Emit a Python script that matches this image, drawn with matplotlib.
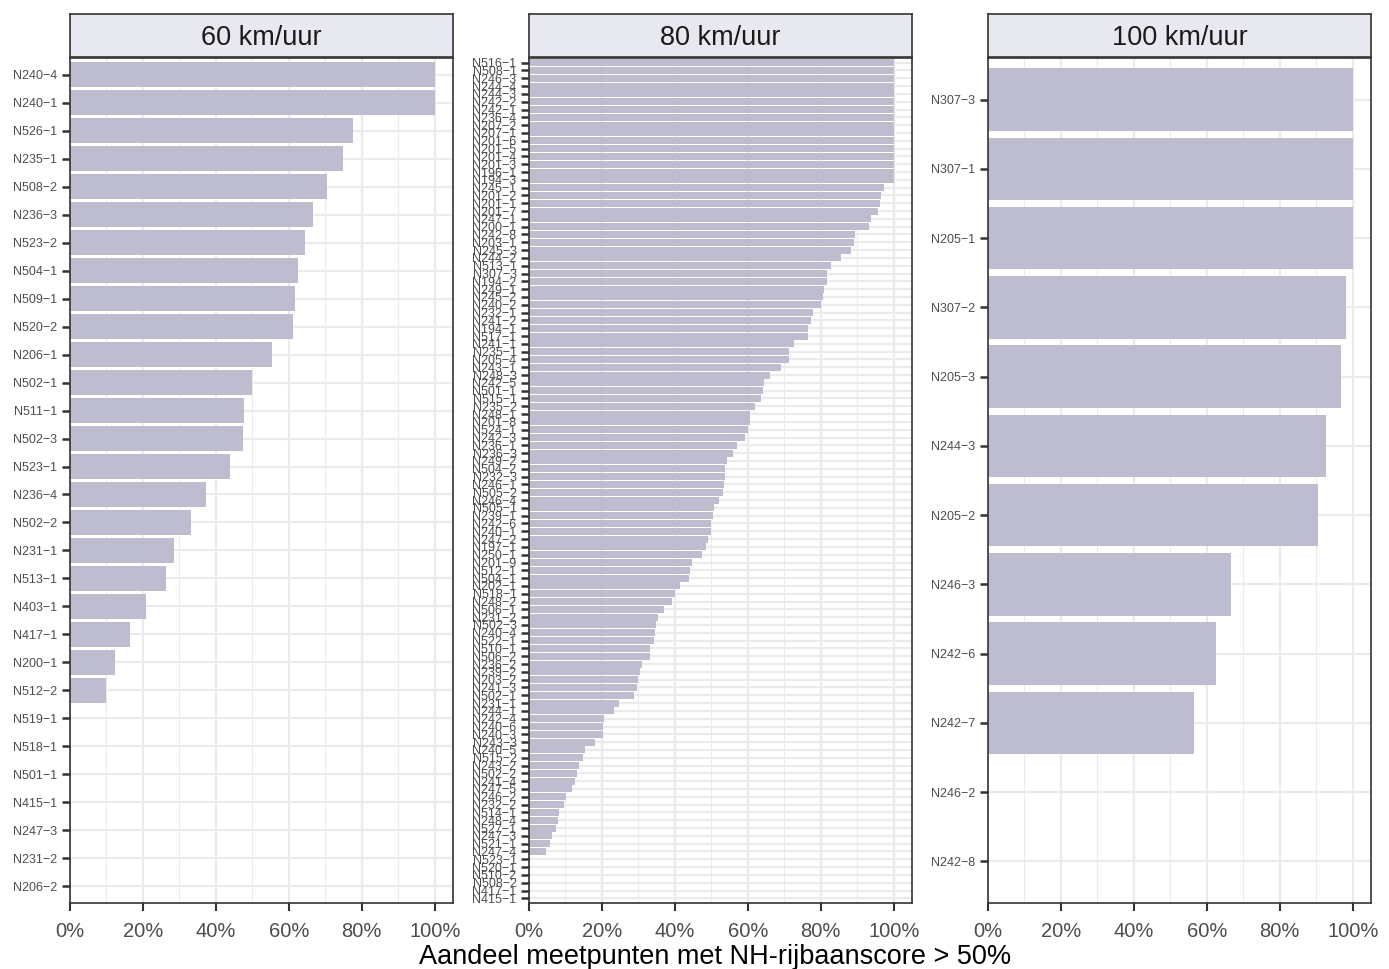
import matplotlib
matplotlib.use("Agg")
import matplotlib.pyplot as plt
from matplotlib.ticker import MultipleLocator, FuncFormatter

plt.rcParams['font.family'] = ['Liberation Sans', 'DejaVu Sans']

# data: share of measuring points with NH-lane score > 50%, per speed limit
titles = ["60 km/uur", "80 km/uur", "100 km/uur"]

labels_60 = ["N240−4", "N240−1", "N526−1", "N235−1", "N508−2", "N236−3", "N523−2", "N504−1",
             "N509−1", "N520−2", "N206−1", "N502−1", "N511−1", "N502−3", "N523−1", "N236−4",
             "N502−2", "N231−1", "N513−1", "N403−1", "N417−1", "N200−1", "N512−2", "N519−1",
             "N518−1", "N501−1", "N415−1", "N247−3", "N231−2", "N206−2"]
share_60 = [100, 100, 77.7, 74.9, 70.5, 66.5, 64.5, 62.4, 61.7, 61.2, 55.4, 50.0, 47.7, 47.5,
            43.8, 37.4, 33.3, 28.4, 26.4, 20.7, 16.5, 12.3, 9.8, 0, 0, 0, 0, 0, 0, 0]

labels_80 = ["N516−1", "N508−1", "N246−3", "N244−4", "N244−3", "N242−2", "N242−1", "N236−4",
             "N207−2", "N207−1", "N201−6", "N201−5", "N201−4", "N201−3", "N196−1", "N194−3",
             "N245−1", "N201−2", "N201−1", "N201−7", "N247−1", "N200−1", "N242−8", "N203−1",
             "N245−3", "N244−2", "N513−1", "N307−3", "N194−2", "N249−1", "N245−2", "N240−2",
             "N232−1", "N241−2", "N194−1", "N517−1", "N241−1", "N235−1", "N205−4", "N243−1",
             "N248−3", "N242−5", "N501−1", "N515−1", "N235−2", "N248−1", "N201−8", "N524−1",
             "N242−3", "N236−1", "N236−3", "N249−2", "N504−2", "N232−3", "N246−1", "N505−2",
             "N246−4", "N505−1", "N239−1", "N242−6", "N240−1", "N247−2", "N197−1", "N250−1",
             "N201−9", "N512−1", "N504−1", "N202−1", "N518−1", "N248−2", "N506−1", "N231−2",
             "N502−3", "N240−4", "N522−1", "N510−1", "N506−2", "N236−2", "N239−2", "N203−2",
             "N241−3", "N502−1", "N231−1", "N244−1", "N242−4", "N240−6", "N240−3", "N243−3",
             "N240−5", "N515−2", "N243−2", "N502−2", "N241−4", "N247−5", "N246−2", "N232−2",
             "N514−1", "N248−4", "N527−1", "N247−3", "N521−1", "N247−4", "N523−1", "N520−1",
             "N510−2", "N508−2", "N417−1", "N415−1"]
share_80 = [100, 100, 100, 100, 100, 100, 100, 100, 100, 100, 100, 100, 100, 100, 100, 100,
            97.3, 96.5, 96.1, 95.6, 93.8, 93.3, 89.4, 89.2, 88.3, 85.4, 82.7, 81.7, 81.6, 81.0,
            80.6, 80.1, 77.8, 77.4, 76.6, 76.4, 72.6, 71.4, 71.2, 69.1, 66.1, 64.3, 64.1, 63.7,
            62.0, 60.7, 60.5, 60.0, 59.3, 57.1, 56.0, 54.4, 53.7, 53.6, 53.5, 53.3, 52.2, 50.7,
            50.5, 49.9, 49.8, 49.1, 48.4, 47.3, 44.6, 44.1, 43.8, 41.5, 39.9, 39.2, 37.0, 35.4,
            34.9, 34.5, 34.2, 33.2, 33.1, 30.9, 30.4, 29.9, 29.7, 28.8, 24.8, 23.4, 20.5, 20.3,
            20.2, 18.0, 15.3, 14.8, 13.7, 13.2, 12.7, 11.9, 10.1, 9.7, 8.1, 8.0, 7.5, 6.4,
            5.7, 4.6, 0, 0, 0, 0, 0, 0]

labels_100 = ["N307−3", "N307−1", "N205−1", "N307−2", "N205−3", "N244−3", "N205−2", "N246−3",
              "N242−6", "N242−7", "N246−2", "N242−8"]
share_100 = [100, 100, 100, 98.2, 96.9, 92.7, 90.5, 66.7, 62.5, 56.4, 0, 0]

bar_colour = "#BEBDCF"
grid_colour = "#EBEBEB"
dark = "#333333"
tick_grey = "#4D4D4D"

fig = plt.figure(figsize=(13.89, 9.69), dpi=100)

W, H = 1389, 969
panel_left = [70, 529, 988]
panel_w = 383
panel_top, panel_bot = 58, 903
strip_top = 14


def draw_panel(left_px, labels, values, title):
    ax = fig.add_axes([left_px / W, 1 - panel_bot / H, panel_w / W, (panel_bot - panel_top) / H])
    n = len(labels)
    ypos = list(range(n))
    ax.barh(ypos, values, height=0.9, color=bar_colour, zorder=2)
    ax.set_xlim(0, 105)
    ax.set_ylim(n - 1 + 0.6, -0.6)
    ax.set_yticks(ypos)
    ax.set_yticklabels(labels, fontsize=9, color=tick_grey)
    ax.xaxis.set_major_locator(MultipleLocator(20))
    ax.xaxis.set_minor_locator(MultipleLocator(10))
    ax.xaxis.set_major_formatter(FuncFormatter(lambda v, _: f"{v:.0f}%"))
    ax.tick_params(axis='x', labelsize=14.5, labelcolor=tick_grey, length=6, width=1.5,
                   color=dark, pad=8)
    ax.tick_params(axis='x', which='minor', length=0)
    ax.tick_params(axis='y', length=6, width=1.8, color=dark, pad=3)
    ax.grid(True, axis='x', which='major', color=grid_colour, lw=1.6, zorder=0)
    ax.grid(True, axis='x', which='minor', color=grid_colour, lw=0.8, zorder=0)
    ax.grid(True, axis='y', which='major', color=grid_colour, lw=1.6, zorder=0)
    ax.set_axisbelow(True)
    for s in ax.spines.values():
        s.set_color(dark)
        s.set_linewidth(1.2)

    # facet strip
    sax = fig.add_axes([left_px / W, 1 - (panel_top - 1) / H, panel_w / W, (panel_top - 1 - strip_top) / H])
    sax.set_facecolor("#E8E8F0")
    sax.set_xticks([])
    sax.set_yticks([])
    for s in sax.spines.values():
        s.set_color(dark)
        s.set_linewidth(1.2)
    sax.text(0.5, 0.44, title, ha='center', va='center', fontsize=19.5, color="#1A1A1A",
             transform=sax.transAxes)
    return ax


draw_panel(panel_left[0], labels_60, share_60, titles[0])
draw_panel(panel_left[1], labels_80, share_80, titles[1])
draw_panel(panel_left[2], labels_100, share_100, titles[2])

fig.text(715 / W, 1 - 957 / H, "Aandeel meetpunten met NH-rijbaanscore > 50%",
         ha='center', va='center', fontsize=19.5, color='black')

plt.savefig("out.png", dpi=100)
